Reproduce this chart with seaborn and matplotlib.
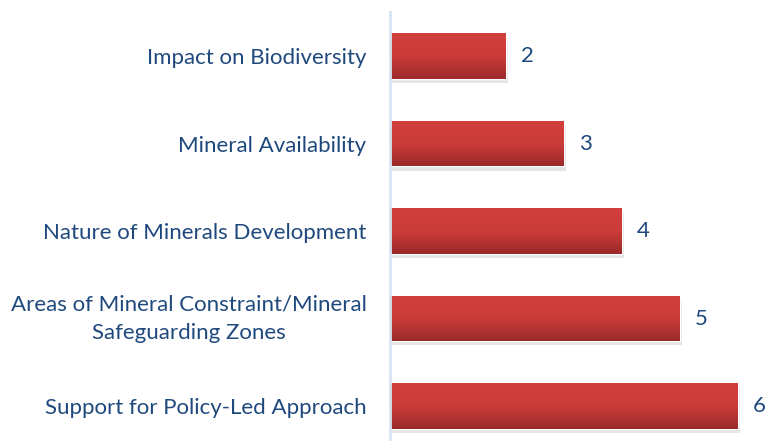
import numpy as np
import pandas as pd
import seaborn as sns
import matplotlib.pyplot as plt
import matplotlib.patheffects as pe
from matplotlib.colors import LinearSegmentedColormap
from matplotlib.transforms import ScaledTranslation

categories = ['Impact on Biodiversity', 'Mineral Availability',
              'Nature of Minerals Development',
              'Areas of Mineral Constraint/Mineral\nSafeguarding Zones',
              'Support for Policy-Led Approach']
counts = [2, 3, 4, 5, 6]

text_color = '#1F497D'
df = pd.DataFrame({'topic': categories, 'count': counts})

sns.set_style('white')
plt.rcParams['font.family'] = ['Lato', 'DejaVu Sans']

fig = plt.figure(figsize=(7.78, 4.41), dpi=100)
ax = fig.add_axes([390 / 778, 0, 388 / 778, 428.6 / 441])

sns.barplot(data=df, y='topic', x='count', orient='h', ax=ax,
            color='#C0392B', width=0.52, saturation=1)

ax.set_xlim(0, 6.69)
ax.set_ylim(4.4, -0.5)

# vertical gradient for each bar, plus a soft shadow
cmap = LinearSegmentedColormap.from_list('bar', ['#D33F3C', '#CB3C39', '#9C2A2A'])
grad = np.linspace(0, 1, 64).reshape(-1, 1)
for p in ax.patches:
    x0, y0 = p.get_x(), p.get_y()
    w, h = p.get_width(), p.get_height()
    p.set_path_effects([pe.SimplePatchShadow(offset=(1.5, -3), shadow_rgbFace='#999999', alpha=0.25),
                        pe.Normal()])
    im = ax.imshow(grad, cmap=cmap, aspect='auto', extent=[x0, x0 + w, y0 + h, y0],
                   zorder=p.get_zorder() + 0.1)
    im.set_clip_path(p)

for i, v in enumerate(counts):
    ax.text(v + 0.37, i, str(v), ha='center', va='center', fontsize=16, color=text_color)

ax.set_xlabel('')
ax.set_ylabel('')
ax.set_xticks([])
ax.tick_params(axis='y', length=0, pad=17, labelsize=16, labelcolor=text_color)
for lab in ax.get_yticklabels():
    lab.set_horizontalalignment('right')
    lab.set_multialignment('center')
    lab.set_linespacing(1.5)
    if '\n' in lab.get_text():
        lab.set_transform(lab.get_transform() + ScaledTranslation(0, 4 / 72, fig.dpi_scale_trans))
for s in ['top', 'right', 'bottom']:
    ax.spines[s].set_visible(False)
ax.spines['left'].set_color('#D6E3F0')
ax.spines['left'].set_linewidth(2)

fig.savefig('out.png', dpi=100)
